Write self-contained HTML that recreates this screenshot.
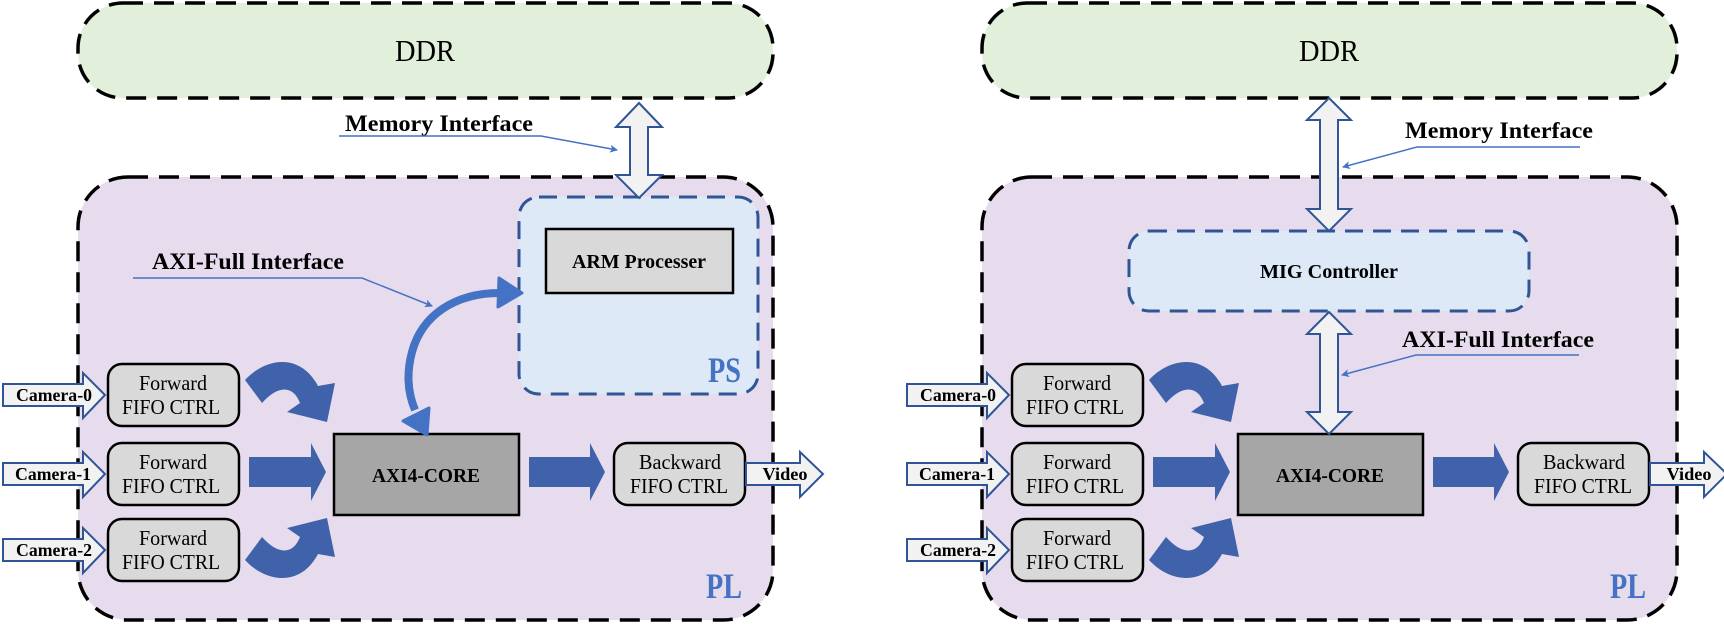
<!DOCTYPE html>
<html><head><meta charset="utf-8"><style>
html,body{margin:0;padding:0;background:#fff;width:1724px;height:624px;overflow:hidden}
text{font-family:"Liberation Serif",serif}
.b{font-weight:bold}
</style></head><body>
<svg width="1724" height="624" viewBox="0 0 1724 624" xmlns="http://www.w3.org/2000/svg">
<defs>
<marker id="ah" markerWidth="8" markerHeight="8" refX="7" refY="4" orient="auto" markerUnits="userSpaceOnUse"><path d="M0,0 L8,4 L0,8 L2,4 Z" fill="#4472c4"/></marker>
<g id="panel">
  <rect x="78" y="177" width="695" height="443" rx="50" fill="#e7dced" stroke="#000" stroke-width="3.5" stroke-dasharray="20,11"/>
  <rect x="78" y="3" width="695" height="95" rx="45" fill="#e2efda" stroke="#000" stroke-width="3.5" stroke-dasharray="20,11"/>
  <text x="425" y="61" font-size="31" text-anchor="middle" textLength="60" lengthAdjust="spacingAndGlyphs">DDR</text>
  <g fill="#d9d9d9" stroke="#000" stroke-width="2.5">
    <rect x="108" y="364" width="131" height="62" rx="14"/>
    <rect x="108" y="443" width="131" height="62" rx="14"/>
    <rect x="108" y="519" width="131" height="62" rx="14"/>
    <rect x="614" y="443" width="131" height="62" rx="14"/>
  </g>
  <g font-size="21" text-anchor="middle">
    <text x="173" y="390" textLength="68" lengthAdjust="spacingAndGlyphs">Forward</text>
    <text x="171" y="414" textLength="98" lengthAdjust="spacingAndGlyphs">FIFO CTRL</text>
    <text x="173" y="469" textLength="68" lengthAdjust="spacingAndGlyphs">Forward</text>
    <text x="171" y="493" textLength="98" lengthAdjust="spacingAndGlyphs">FIFO CTRL</text>
    <text x="173" y="545" textLength="68" lengthAdjust="spacingAndGlyphs">Forward</text>
    <text x="171" y="569" textLength="98" lengthAdjust="spacingAndGlyphs">FIFO CTRL</text>
    <text x="680" y="469" textLength="82" lengthAdjust="spacingAndGlyphs">Backward</text>
    <text x="679" y="493" textLength="98" lengthAdjust="spacingAndGlyphs">FIFO CTRL</text>
  </g>
  <g fill="#f2f2f2" stroke="#2f5597" stroke-width="2">
    <path d="M3,384 L83,384 L83,373 L105,395 L83,418 L83,406 L3,406 Z"/>
    <path d="M3,463 L83,463 L83,452 L105,474 L83,497 L83,485 L3,485 Z"/>
    <path d="M3,539 L83,539 L83,528 L105,550 L83,573 L83,561 L3,561 Z"/>
    <path d="M746,463 L800,463 L800,452 L823,474 L800,497 L800,485 L746,485 Z"/>
  </g>
  <g font-size="18" class="b" text-anchor="middle">
    <text x="54" y="401" textLength="76" lengthAdjust="spacingAndGlyphs">Camera-0</text>
    <text x="53" y="480" textLength="76" lengthAdjust="spacingAndGlyphs">Camera-1</text>
    <text x="54" y="556" textLength="76" lengthAdjust="spacingAndGlyphs">Camera-2</text>
    <text x="785" y="480" textLength="45" lengthAdjust="spacingAndGlyphs">Video</text>
  </g>
  <rect x="334" y="434" width="185" height="81" fill="#a6a6a6" stroke="#000" stroke-width="2.5"/>
  <text x="426" y="482" font-size="20" class="b" text-anchor="middle" textLength="108" lengthAdjust="spacingAndGlyphs">AXI4-CORE</text>
  <g fill="#3f62aa">
    <path d="M249,457 L311,457 L311,443 L326,472 L311,501 L311,487 L249,487 Z"/>
    <path d="M529,457 L590,457 L590,443 L605,472 L590,501 L590,487 L529,487 Z"/>
    <path d="M245,380 C265,358 300,352 318,386 L335,383 L327,422 L287,412 L300,403 C293,385 278,385 262,403 Z"/>
    <path d="M245,560 C265,582 300,588 318,554 L335,557 L327,518 L287,528 L300,537 C293,555 278,555 262,537 Z"/>
  </g>
  <text x="742" y="598" font-size="36" class="b" fill="#4472c4" text-anchor="end" textLength="36" lengthAdjust="spacingAndGlyphs">PL</text>
</g>
</defs>

<use href="#panel"/>
<use href="#panel" x="904"/>

<rect x="519" y="197" width="239" height="197" rx="20" fill="#dde9f6" stroke="#2f5597" stroke-width="3" stroke-dasharray="18,10"/>
<rect x="546" y="229" width="187" height="64" fill="#d9d9d9" stroke="#000" stroke-width="2.5"/>
<text x="639" y="268" font-size="20" class="b" text-anchor="middle" textLength="134" lengthAdjust="spacingAndGlyphs">ARM Processer</text>
<text x="741" y="382" font-size="36" class="b" fill="#4472c4" text-anchor="end" textLength="33" lengthAdjust="spacingAndGlyphs">PS</text>
<path d="M639,103 L662,127 L648,127 L648,175 L662,175 L639,198 L616,175 L630,175 L630,127 L616,127 Z" fill="#f2f2f2" stroke="#2f5597" stroke-width="2"/>
<text x="345" y="131" font-size="23" class="b" textLength="188" lengthAdjust="spacingAndGlyphs">Memory Interface</text>
<polyline points="339,136 541,136 617,150" fill="none" stroke="#4472c4" stroke-width="1.5" marker-end="url(#ah)"/>
<text x="152" y="269" font-size="23" class="b" textLength="192" lengthAdjust="spacingAndGlyphs">AXI-Full Interface</text>
<polyline points="133,278 362,278 432,306" fill="none" stroke="#4472c4" stroke-width="1.5" marker-end="url(#ah)"/>
<path d="M500,293 C455,293 422,315 412,352 C405,378 410,398 415,410" fill="none" stroke="#4472c4" stroke-width="8"/>
<path d="M522,293 L499,278 L498,307 Z" fill="#4472c4" stroke="#4472c4" stroke-width="3" stroke-linejoin="round"/>
<path d="M427,435 L403,421 L429,408 Z" fill="#4472c4" stroke="#4472c4" stroke-width="3" stroke-linejoin="round"/>

<rect x="1129" y="231" width="400" height="80" rx="20" fill="#dde9f6" stroke="#2f5597" stroke-width="3" stroke-dasharray="18,10"/>
<text x="1329" y="278" font-size="20" class="b" text-anchor="middle" textLength="138" lengthAdjust="spacingAndGlyphs">MIG Controller</text>
<path d="M1329,98 L1351,120 L1338,120 L1338,209 L1351,209 L1329,231 L1307,209 L1320,209 L1320,120 L1307,120 Z" fill="#f2f2f2" stroke="#2f5597" stroke-width="2"/>
<path d="M1329,312 L1351,334 L1338,334 L1338,412 L1351,412 L1329,434 L1307,412 L1320,412 L1320,334 L1307,334 Z" fill="#f2f2f2" stroke="#2f5597" stroke-width="2"/>
<text x="1405" y="138" font-size="23" class="b" textLength="188" lengthAdjust="spacingAndGlyphs">Memory Interface</text>
<polyline points="1580,147 1417,147 1343,167" fill="none" stroke="#4472c4" stroke-width="1.5" marker-end="url(#ah)"/>
<text x="1402" y="347" font-size="23" class="b" textLength="192" lengthAdjust="spacingAndGlyphs">AXI-Full Interface</text>
<polyline points="1579,355 1416,355 1342,375" fill="none" stroke="#4472c4" stroke-width="1.5" marker-end="url(#ah)"/>
</svg>
</body></html>
